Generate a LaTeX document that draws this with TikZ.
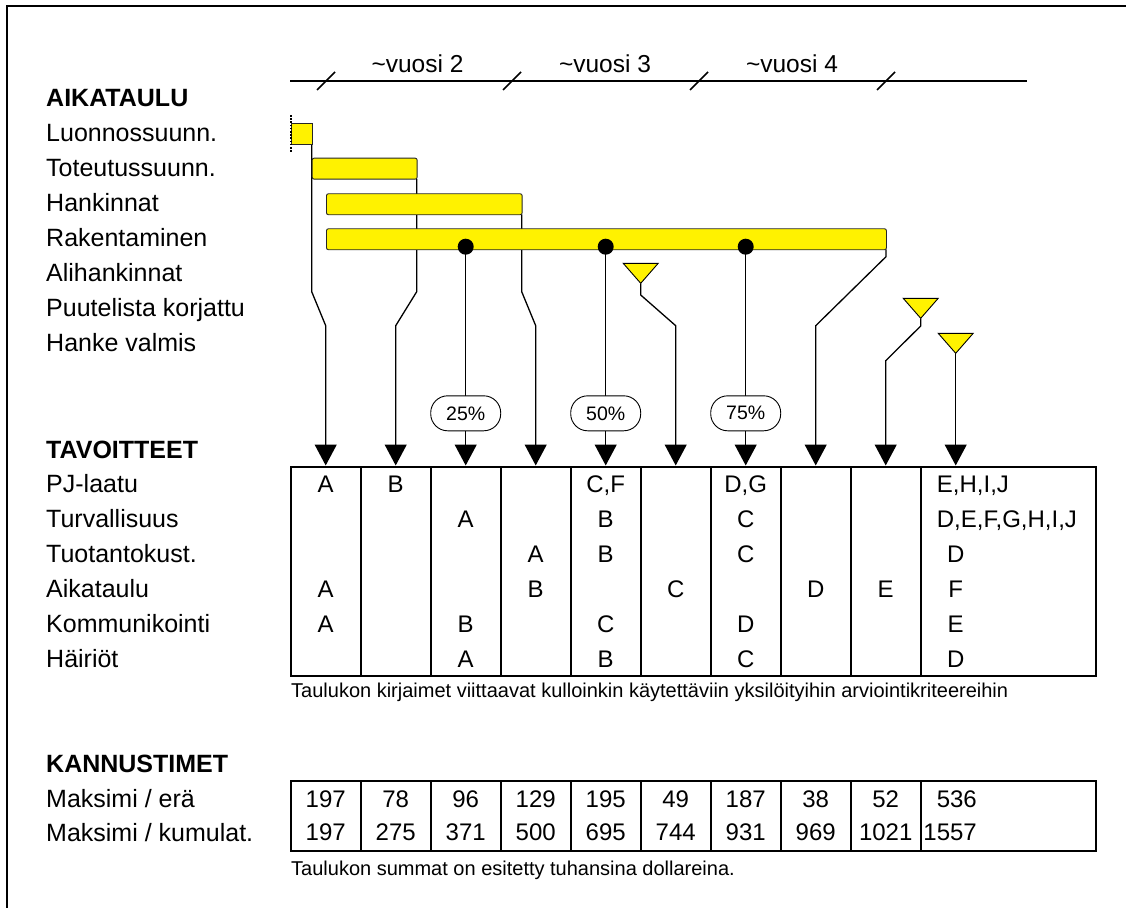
\documentclass[tikz,border=0pt]{standalone}
\usepackage{fontspec}
\setmainfont{Liberation Sans}
\usetikzlibrary{arrows.meta}
\begin{document}
\begin{tikzpicture}[x=1pt,y=-1pt,
  lbl/.style={anchor=base west, inner sep=0, font=\fontsize{25}{29}\selectfont},
  hdr/.style={anchor=base west, inner sep=0, font=\bfseries\fontsize{25}{29}\selectfont},
  yr/.style={anchor=base, inner sep=0, font=\fontsize{24.5}{28}\selectfont},
  cell/.style={anchor=base, inner sep=0, font=\fontsize{24}{28}\selectfont},
  cellw/.style={anchor=base west, inner sep=0, font=\fontsize{24}{28}\selectfont},
  celle/.style={anchor=base east, inner sep=0, font=\fontsize{24}{28}\selectfont},
  note/.style={anchor=base west, inner sep=0, font=\fontsize{20}{24}\selectfont},
  bar/.style={draw=black!85, fill=yellow, line width=0.9pt, rounded corners=2pt,
    inner sep=0, minimum height=21pt, anchor=north west},
  conn/.style={line width=1.3pt},
  arr/.style={conn, -{Triangle[width=22pt,length=21pt]}},
  dot/.style={circle, fill=black, inner sep=0, minimum size=16pt},
  tri/.style={draw=black, fill=yellow, line width=0.9pt, line join=miter},
  pct/.style={draw, fill=white, line width=0.9pt, rounded corners=17pt,
    minimum width=70pt, minimum height=35pt, inner sep=0,
    font=\fontsize{19.5}{22}\selectfont},
  grid/.style={line width=2pt},
  frame/.style={line width=2pt},
  tick/.style={line width=1.5pt}]
\useasboundingbox (0,0) rectangle (1126,907);

% outer frame
\draw[frame] (6.5,920) -- (6.5,6.5) -- (1140,6.5);

% time axis with year ticks
\coordinate (ax0) at (290,81);
\coordinate (ax1) at (1027,81);
\draw[conn] (ax0) -- (ax1);
\foreach \x in {326,512,699,886}
  \draw[tick] (\x-9,90) -- (\x+9,72);
\node[yr] (y2) at (417.5,72) {\textasciitilde vuosi 2};
\node[yr] (y3) at (605,72) {\textasciitilde vuosi 3};
\node[yr] (y4) at (792,72) {\textasciitilde vuosi 4};

% left-hand labels
\node[hdr] (hA) at (46,106.5) {AIKATAULU};
\node[lbl] (l1) at (46,141) {Luonnossuunn.};
\node[lbl] (l2) at (46,176) {Toteutussuunn.};
\node[lbl] (l3) at (46,211) {Hankinnat};
\node[lbl] (l4) at (46,246) {Rakentaminen};
\node[lbl] (l5) at (46,281) {Alihankinnat};
\node[lbl] (l6) at (46,316) {Puutelista korjattu};
\node[lbl] (l7) at (46,351) {Hanke valmis};
\node[hdr] (hT) at (46,458) {TAVOITTEET};
\node[lbl] (g1) at (46,492) {PJ-laatu};
\node[lbl] (g2) at (46,527) {Turvallisuus};
\node[lbl] (g3) at (46,562) {Tuotantokust.};
\node[lbl] (g4) at (46,597) {Aikataulu};
\node[lbl] (g5) at (46,632) {Kommunikointi};
\node[lbl] (g6) at (46,667) {Häiriöt};
\node[hdr] (hK) at (46,772) {KANNUSTIMET};
\node[lbl] (k1) at (46,807) {Maksimi / erä};
\node[lbl] (k2) at (46,841) {Maksimi / kumulat.};

% arrow targets on top of the goal table
\foreach \i in {1,...,10}
  \coordinate (c\i) at (325.7+70*\i-70,465.5);

% milestone triangles (apex points)
\coordinate (tr1) at (640.7,283.3);
\coordinate (tr2) at (920.7,318.3);
\coordinate (tr3) at (955.7,353.3);

% connectors from bar ends, milestones and triangles down to the table
\draw[arr] (311.7,144.3) coordinate (b1se) -- (311.7,291.7) -- (c1 |- 0,325.7) -- (c1);
\draw[arr] (416.7,179) coordinate (b2se) -- (416.7,291.7) -- (c2 |- 0,325.7) -- (c2);
\draw[arr] (465.7,246.7) coordinate (d1) -- (c3);
\draw[arr] (521.7,214.3) coordinate (b3se) -- (521.7,291.7) -- (c4 |- 0,325.7) -- (c4);
\draw[arr] (605.7,246.7) coordinate (d2) -- (c5);
\draw[arr] (tr1) -- (tr1 |- 0,295) -- (c6 |- 0,325.7) -- (c6);
\draw[arr] (745.7,246.7) coordinate (d3) -- (c7);
\draw[arr] (886,249.3) coordinate (b4se) -- (886,256.7) -- (c8 |- 0,325.7) -- (c8);
\draw[arr] (tr2) -- (tr2 |- 0,326) -- (c9 |- 0,360.7) -- (c9);
\draw[arr] (tr3) -- (c10);

% schedule bars
\node[bar, rounded corners=0, minimum width=21pt] (b1) at (290.7,123.3) {};
\draw[line width=1.6pt, dash pattern=on 1.6pt off 1.6pt] (290.7,115) -- (290.7,152);
\node[bar, minimum width=105pt] (b2) at (311.7,157.7) {};
\node[bar, minimum width=195.7pt] (b3) at (326,193.3) {};
\node[bar, minimum width=560pt] (b4) at (326,228.3) {};

\node[dot] (m1) at (d1) {};
\node[dot] (m2) at (d2) {};
\node[dot] (m3) at (d3) {};

\draw[tri] (tr1) -- ++(-17.5,-20) -- ++(35,0) -- cycle;
\draw[tri] (tr2) -- ++(-17.5,-20) -- ++(35,0) -- cycle;
\draw[tri] (tr3) -- ++(-17.5,-20) -- ++(35,0) -- cycle;

\node[pct] (p25) at (465.7,413.3) {25\%};
\node[pct] (p50) at (605.7,413.3) {50\%};
\node[pct] (p75) at (745.7,413.3) {75\%};

% goal table
\draw[grid] (290.7,466.7) rectangle (1096,676);
\foreach \i in {1,...,9}
  \draw[grid] (290.7+70*\i,466.7) -- (290.7+70*\i,676);

\node[cell] (r1a) at (325.7,492) {A};
\node[cell] (r1b) at (395.7,492) {B};
\node[cell] (r1e) at (605.7,492) {C,F};
\node[cell] (r1g) at (745.7,492) {D,G};
\node[cellw] (r1j) at (936.7,492) {E,H,I,J};

\node[cell] (r2c) at (465.7,527) {A};
\node[cell] (r2e) at (605.7,527) {B};
\node[cell] (r2g) at (745.7,527) {C};
\node[cellw] (r2j) at (936.7,527) {D,E,F,G,H,I,J};

\node[cell] (r3d) at (535.7,562) {A};
\node[cell] (r3e) at (605.7,562) {B};
\node[cell] (r3g) at (745.7,562) {C};
\node[cell] (r3j) at (955.7,562) {D};

\node[cell] (r4a) at (325.7,597) {A};
\node[cell] (r4d) at (535.7,597) {B};
\node[cell] (r4f) at (675.7,597) {C};
\node[cell] (r4h) at (815.7,597) {D};
\node[cell] (r4i) at (885.7,597) {E};
\node[cell] (r4j) at (955.7,597) {F};

\node[cell] (r5a) at (325.7,632) {A};
\node[cell] (r5c) at (465.7,632) {B};
\node[cell] (r5e) at (605.7,632) {C};
\node[cell] (r5g) at (745.7,632) {D};
\node[cell] (r5j) at (955.7,632) {E};

\node[cell] (r6c) at (465.7,667) {A};
\node[cell] (r6e) at (605.7,667) {B};
\node[cell] (r6g) at (745.7,667) {C};
\node[cell] (r6j) at (955.7,667) {D};

\node[note] (n1) at (291,697) {Taulukon kirjaimet viittaavat kulloinkin käytettäviin yksilöityihin arviointikriteereihin};

% incentive table
\draw[grid] (290.7,780.7) rectangle (1096,850.7);
\foreach \i in {1,...,9}
  \draw[grid] (290.7+70*\i,780.7) -- (290.7+70*\i,850.7);

\foreach \v [count=\i] in {197,78,96,129,195,49,187,38,52}
  \node[cell] (e\i) at (255.7+70*\i,807) {\v};
\node[celle] (e10) at (977,807) {536};
\foreach \v [count=\i] in {197,275,371,500,695,744,931,969,1021}
  \node[cell] (s\i) at (255.7+70*\i,840.5) {\v};
\node[celle] (s10) at (977,840.5) {1557};

\node[note] (n2) at (291,875) {Taulukon summat on esitetty tuhansina dollareina.};
\end{tikzpicture}
\end{document}
